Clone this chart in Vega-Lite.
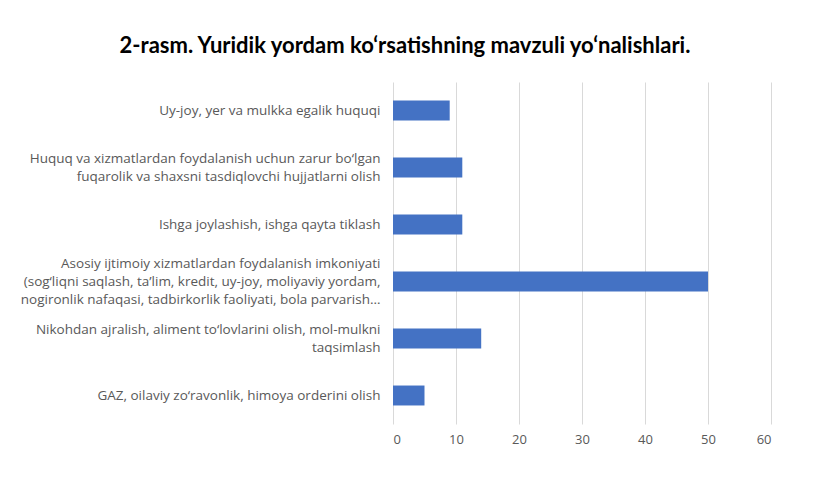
{
  "$schema": "https://vega.github.io/schema/vega-lite/v6.json",
  "autosize": {"type": "none"},
  "width": 378,
  "height": 342,
  "padding": {"left": 393, "top": 82, "right": 42, "bottom": 54},
  "background": "white",
  "title": {
    "text": "2-rasm. Yuridik yordam ko‘rsatishning mavzuli yo‘nalishlari.",
    "font": "Lato",
    "fontSize": 22,
    "fontWeight": "bold",
    "color": "#000000",
    "anchor": "middle",
    "dx": -177,
    "offset": 24
  },
  "config": {
    "view": {"stroke": null},
    "axis": {
      "labelFont": "Open Sans",
      "labelColor": "#595959",
      "ticks": false,
      "domain": false,
      "title": null
    }
  },
  "data": {
    "values": [
      {"yo_nalish": "Uy-joy, yer va mulkka egalik huquqi", "soni": 9},
      {"yo_nalish": "Huquq va xizmatlardan foydalanish uchun zarur bo‘lgan|fuqarolik va shaxsni tasdiqlovchi hujjatlarni olish", "soni": 11},
      {"yo_nalish": "Ishga joylashish, ishga qayta tiklash", "soni": 11},
      {"yo_nalish": "Asosiy ijtimoiy xizmatlardan foydalanish imkoniyati|(sog‘liqni saqlash, ta’lim, kredit, uy-joy, moliyaviy yordam,|nogironlik nafaqasi, tadbirkorlik faoliyati, bola parvarish…", "soni": 50},
      {"yo_nalish": "Nikohdan ajralish, aliment to‘lovlarini olish, mol-mulkni|taqsimlash", "soni": 14},
      {"yo_nalish": "GAZ, oilaviy zo‘ravonlik, himoya orderini olish", "soni": 5}
    ]
  },
  "mark": {"type": "bar", "color": "#4472C4"},
  "encoding": {
    "y": {
      "field": "yo_nalish",
      "type": "nominal",
      "sort": null,
      "scale": {"paddingInner": 0.65, "paddingOuter": 0.325},
      "axis": {
        "labelExpr": "split(datum.label, '|')",
        "labelOffset": {"expr": "-9 * (length(split(datum.label, '|')) - 1)"},
        "labelPadding": 13,
        "labelLimit": 400,
        "labelFontSize": 13.5,
        "labelLineHeight": 18,
        "grid": false
      }
    },
    "x": {
      "field": "soni",
      "type": "quantitative",
      "scale": {"domain": [0, 60], "nice": false},
      "axis": {
        "values": [0, 10, 20, 30, 40, 50, 60],
        "grid": true,
        "gridColor": "#d9d9d9",
        "labelPadding": 9,
        "labelFontSize": 13
      }
    }
  }
}
